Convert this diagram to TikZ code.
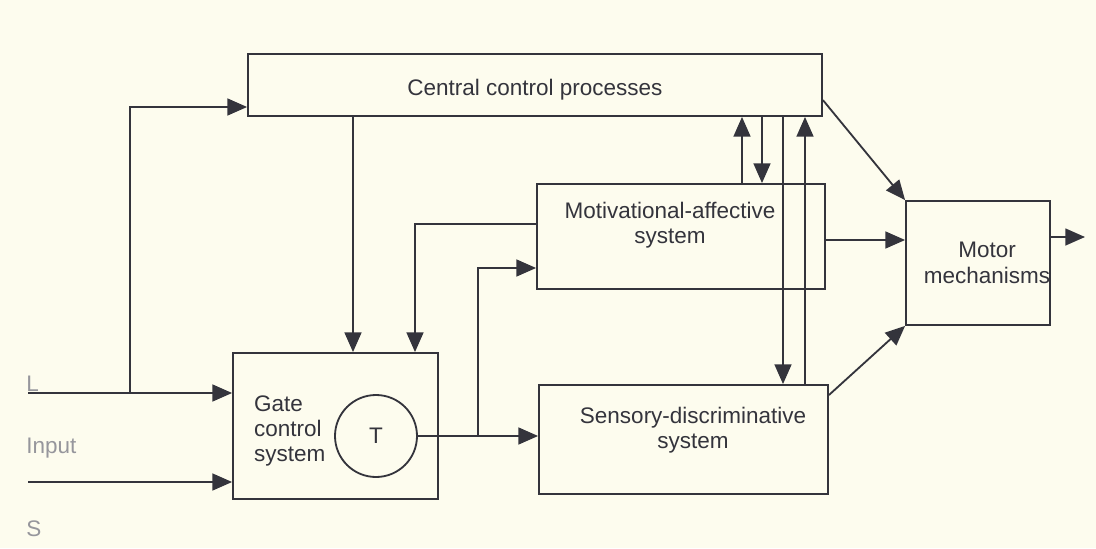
\documentclass[tikz,border=0pt]{standalone}
\usepackage{fontspec}
\setmainfont{Liberation Sans}
\usetikzlibrary{arrows.meta}
\definecolor{paper}{RGB}{253,252,238}
\definecolor{ink}{RGB}{52,52,60}
\definecolor{faded}{RGB}{150,150,156}
\tikzstyle{box}=[rectangle, draw=ink, line width=1.3pt, inner sep=0pt]
\tikzstyle{wheel}=[circle, draw=ink, line width=1.3pt, inner sep=0pt, minimum size=2.05cm]
\tikzstyle{flow}=[draw=ink, line width=1.3pt, -{Triangle[length=14pt, width=12pt]}]
\tikzstyle{side label}=[text=faded, anchor=west, inner sep=0pt]

\begin{document}
\begin{tikzpicture}[font=\fontsize{16}{18}\selectfont, text=ink]
\fill[paper] (0,0) rectangle (27.4,13.7);
\useasboundingbox (0,0) rectangle (27.4,13.7);

\node[box, minimum width=14.35cm, minimum height=1.55cm,
      label={[shift={(0,-0.12)}]center:Central control processes}] (central) at (13.375, 11.575) {};
\node[box, minimum width=7.2cm, minimum height=2.625cm,
      label={[shift={(-0.275,0.29)}, align=center]center:Motivational-affective\\system}] (motiv) at (17.025, 7.7875) {};
\node[box, minimum width=7.225cm, minimum height=2.725cm,
      label={[shift={(0.24,0.24)}, align=center]center:Sensory-discriminative\\system}] (sensory) at (17.0875, 2.7125) {};
\node[box, minimum width=5.125cm, minimum height=3.65cm,
      label={[anchor=west, xshift=0.425cm, yshift=-0.12cm, align=left]west:Gate\\control\\system}] (gate) at (8.3875, 3.05) {};
\node[wheel] (T) at (9.4, 2.8) {T};
\node[box, minimum width=3.6cm, minimum height=3.1cm,
      label={[shift={(0.225,0)}, align=center]center:Motor\\mechanisms}] (motor) at (24.45, 7.125) {};

\node[side label] (lbl-L) at (0.65, 4.1) {L};
\node[side label] (lbl-input) at (0.65, 2.5) {Input};
\node[side label] (lbl-S) at (0.65, 0.475) {S};

% inputs into the gate
\coordinate (lin) at (0.7, 3.875);
\coordinate (sin) at (0.7, 1.65);
\draw[flow] (lin) -- (lin -| gate.west);
\draw[flow] (sin) -- (sin -| gate.west);
\coordinate (lsplit) at (3.25, 3.875);
\coordinate (lup) at (3.25, 11.025);
\draw[flow] (lsplit) -- (lup) -- (lup -| central.west);

% descending control onto the gate
\coordinate (cdown) at (8.825, 0);
\draw[flow] (cdown |- central.south) -- (cdown |- gate.north);
\coordinate (fb) at (10.375, 8.1);
\draw[flow] (fb -| motiv.west) -- (fb) -- (fb |- gate.north);

% gate output
\draw[flow] (T.east) -- (T.east -| sensory.west);
\coordinate (tsplit) at (11.95, 2.8);
\coordinate (tup) at (11.95, 7.0);
\draw[flow] (tsplit) -- (tup) -- (tup -| motiv.west);

% links with the central processes
\coordinate (v1) at (18.55, 0);
\coordinate (v2) at (19.05, 0);
\coordinate (v3) at (19.575, 0);
\coordinate (v4) at (20.125, 0);
\draw[flow] (v1 |- motiv.north) -- (v1 |- central.south);
\draw[flow] (v2 |- central.south) -- (v2 |- motiv.north);
\draw[flow] (v3 |- central.south) -- (v3 |- sensory.north);
\draw[flow] (v4 |- sensory.north) -- (v4 |- central.south);

% into the motor mechanisms
\draw[flow] (central.-3.6) -- (motor.north west);
\coordinate (mout) at (0, 7.7);
\draw[flow] (mout -| motiv.east) -- (mout -| motor.west);
\draw[flow] (sensory.17) -- (motor.south west);
\coordinate (out) at (27.125, 7.775);
\draw[flow] (out -| motor.east) -- (out);
\end{tikzpicture}
\end{document}
